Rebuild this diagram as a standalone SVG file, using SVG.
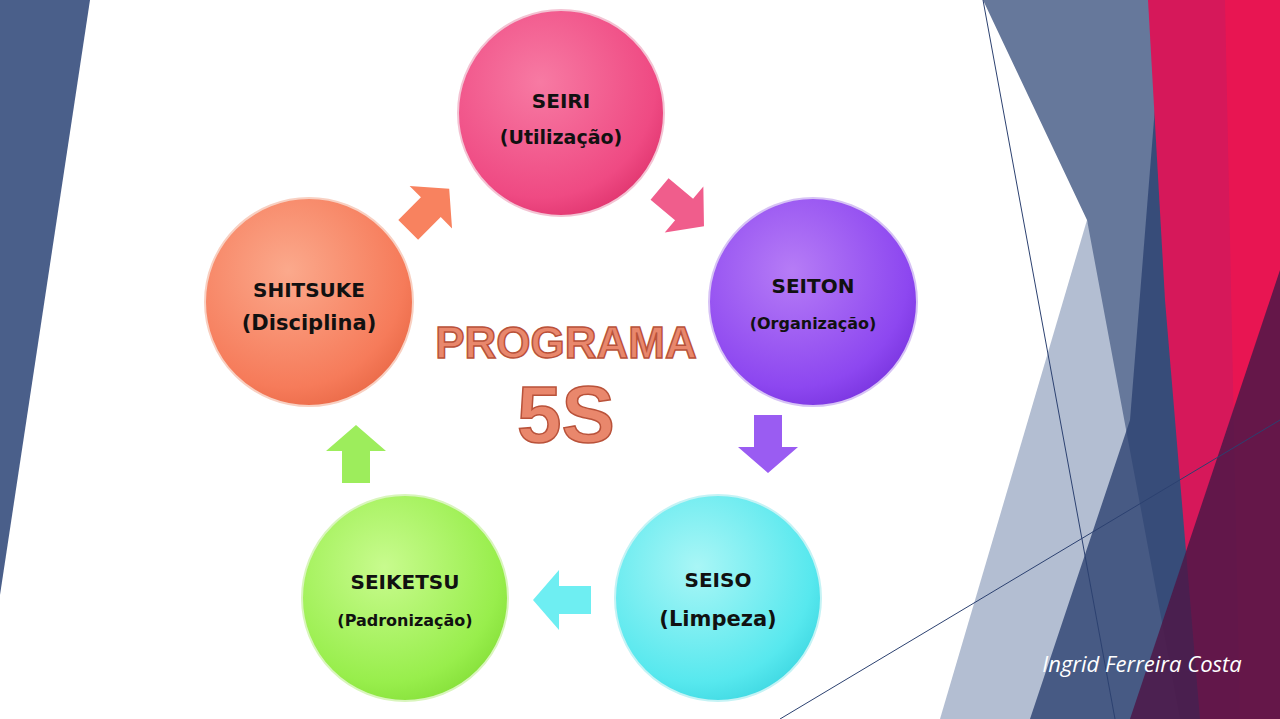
<svg xmlns="http://www.w3.org/2000/svg" width="1280" height="719" viewBox="0 0 1280 719">
<defs>
<style>
.lbl{font-family:"DejaVu Sans","Open Sans",sans-serif;font-weight:bold;fill:#111;text-anchor:middle}
.title{font-family:"Liberation Sans",Arial,sans-serif;font-weight:bold;fill:#e9876c;stroke:#b9523a;stroke-width:1.5;text-anchor:middle}
.ln{stroke:#2c4170;stroke-width:1;fill:none}
</style>
<radialGradient id="gPink" cx="0.4" cy="0.35" r="0.7"><stop offset="0" stop-color="#f77aa3"/><stop offset="0.8" stop-color="#ef4a83"/><stop offset="1" stop-color="#e0356f"/></radialGradient>
<radialGradient id="gPurple" cx="0.4" cy="0.35" r="0.7"><stop offset="0" stop-color="#b67cf6"/><stop offset="0.8" stop-color="#8d47f0"/><stop offset="1" stop-color="#7a35e0"/></radialGradient>
<radialGradient id="gCyan" cx="0.4" cy="0.35" r="0.7"><stop offset="0" stop-color="#a9f6f6"/><stop offset="0.8" stop-color="#57e8ee"/><stop offset="1" stop-color="#3fd8e2"/></radialGradient>
<radialGradient id="gGreen" cx="0.4" cy="0.35" r="0.7"><stop offset="0" stop-color="#c8fb8e"/><stop offset="0.8" stop-color="#98ee4c"/><stop offset="1" stop-color="#86e03a"/></radialGradient>
<radialGradient id="gOrange" cx="0.4" cy="0.35" r="0.7"><stop offset="0" stop-color="#fba98c"/><stop offset="0.8" stop-color="#f67b5a"/><stop offset="1" stop-color="#ea6a48"/></radialGradient>
<path id="arr" d="M-28,-14 L4,-14 L4,-30 L30,0 L4,30 L4,14 L-28,14 Z"/>
</defs>
<rect width="1280" height="719" fill="#ffffff"/>
<g id="background">
<polygon points="0,0 90,0 0,595" fill="#4a5f8a"/>
<polygon points="1087,220 1230,719 940,719" fill="#b3bed2"/>
<polygon points="983,0 1160,0 1225,719 1180,719 1087,220" fill="#66789b"/>
<polygon points="1160,45 1215,330 1230,719 1030,719 1130,420" fill="#2c4170" opacity="0.8"/>
<polygon points="1148,0 1280,0 1280,719 1200,719 1165,300" fill="#d6185a"/>
<polygon points="1225,0 1280,0 1280,719 1240,719" fill="#ec1550" opacity="0.8"/>
<polygon points="1280,270 1280,719 1130,719" fill="#4e1848" opacity="0.85"/>
<line class="ln" x1="983" y1="0" x2="1115" y2="719"/>
<line class="ln" x1="780" y1="719" x2="1280" y2="420"/>
<text x="1142" y="672" font-family="'Open Sans','DejaVu Sans',sans-serif" font-style="italic" font-size="22" fill="#ffffff" text-anchor="middle">Ingrid Ferreira Costa</text>
</g>
<g id="connectors">
<use href="#arr" transform="translate(681,207) rotate(40)" fill="#f05d8c"/>
<use href="#arr" transform="translate(768,443) rotate(90)" fill="#9a5cf2"/>
<use href="#arr" transform="translate(563,600) rotate(180)" fill="#6eeef2"/>
<use href="#arr" transform="translate(356,455) rotate(-90)" fill="#9ded5c"/>
<use href="#arr" transform="translate(428,210) rotate(-45)" fill="#f8825f"/>
</g>
<g id="seiri"><circle cx="561" cy="113" r="103" fill="url(#gPink)" stroke="#f3c3d3" stroke-width="2"/>
<text class="lbl" x="561" y="108" font-size="20">SEIRI</text><text class="lbl" x="561" y="144" font-size="19">(Utilização)</text></g>
<g id="seiton"><circle cx="813" cy="302" r="104" fill="url(#gPurple)" stroke="#d7c3f5" stroke-width="2"/>
<text class="lbl" x="813" y="293" font-size="20">SEITON</text><text class="lbl" x="813" y="329" font-size="16">(Organização)</text></g>
<g id="seiso"><circle cx="718" cy="598" r="103" fill="url(#gCyan)" stroke="#c5f3f5" stroke-width="2"/>
<text class="lbl" x="718" y="587" font-size="20">SEISO</text><text class="lbl" x="718" y="626" font-size="21">(Limpeza)</text></g>
<g id="seiketsu"><circle cx="405" cy="598" r="103" fill="url(#gGreen)" stroke="#d9f5bd" stroke-width="2"/>
<text class="lbl" x="405" y="589" font-size="20">SEIKETSU</text><text class="lbl" x="405" y="626" font-size="16">(Padronização)</text></g>
<g id="shitsuke"><circle cx="309" cy="302" r="104" fill="url(#gOrange)" stroke="#f8d0c2" stroke-width="2"/>
<text class="lbl" x="309" y="297" font-size="20">SHITSUKE</text><text class="lbl" x="309" y="330" font-size="21">(Disciplina)</text></g>
<g id="title">
<text class="title" x="566" y="358" font-size="44">PROGRAMA</text>
<text class="title" x="566" y="442" font-size="80">5S</text>
</g>
</svg>
